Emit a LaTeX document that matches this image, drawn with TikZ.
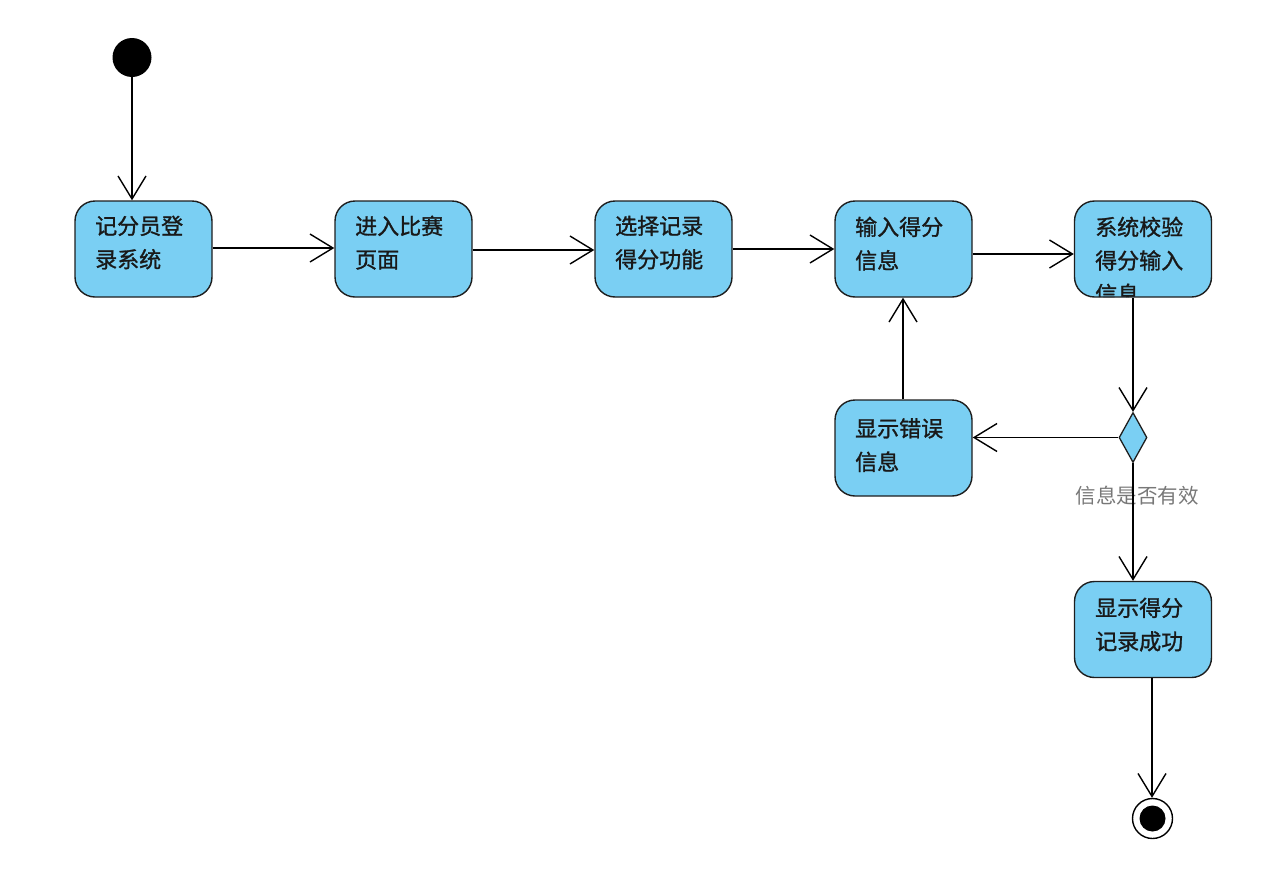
\documentclass[tikz,border=0pt]{standalone}
\usepackage{fontspec}
\newfontfamily\cjk[FakeBold=1.2]{Noto Sans CJK SC}
\newfontfamily\cjklbl{Noto Sans CJK SC}
\usetikzlibrary{arrows.meta,shapes.geometric,calc}
\definecolor{actfill}{RGB}{122,207,243}
\definecolor{actline}{RGB}{30,30,30}
\definecolor{lblgray}{RGB}{120,120,120}
\begin{document}
\begin{tikzpicture}[x=1pt,y=-1pt,
  actbox/.style={draw=actline,line width=1.4pt,fill=actfill,rounded corners=20pt,
    minimum width=137pt,minimum height=96pt,inner sep=0pt},
  acttext/.style={font=\cjk\fontsize{22}{33.5}\selectfont,align=left,anchor=north west,
    inner sep=0pt,text=black!90},
  arr/.style={line width=1.4pt,-{Straight Barb[length=23pt,width=28pt]}},
  decision/.style={diamond,draw=actline,line width=1.3pt,fill=actfill,inner sep=0pt,
    minimum width=28pt,minimum height=50pt,aspect=0.56},
  lbl/.style={font=\cjklbl\fontsize{20.5}{24}\selectfont,text=lblgray,inner sep=0pt}]
\useasboundingbox (0,0) rectangle (1261,889);
% start
\node[circle,fill=black,minimum size=39pt,inner sep=0pt] (s) at (132,57.5) {};
% boxes
\node[actbox] (b1) at (143.5,249) {};
\node[actbox] (b2) at (403.5,249) {};
\node[actbox] (b3) at (663.5,249) {};
\node[actbox] (b4) at (903.5,249) {};
\node[actbox] (b5) at (1143,249) {};
\node[actbox] (b6) at (903.5,448) {};
\node[actbox] (b7) at (1143,629.5) {};
\node[acttext] (t1) at (95,215.5) {记分员登\\录系统};
\node[acttext] (t2) at (355,215.5) {进入比赛\\页面};
\node[acttext] (t3) at (615,215.5) {选择记录\\得分功能};
\node[acttext] (t4) at (855,216.5) {输入得分\\信息};
\begin{scope}
  \clip[rounded corners=20pt] (1074.5,201) rectangle (1211.5,297);
  \node[acttext] (t5) at (1095,216.5) {系统校验\\得分输入\\信息};
\end{scope}
\node[acttext] (t6) at (855,418) {显示错误\\信息};
\node[acttext] (t7) at (1095,597.5) {显示得分\\记录成功};
% decision
\node[decision] (d) at (1133,437.5) {};
\node[lbl] (l) at (1137,496) {信息是否有效};
% final
\node[circle,draw=black,line width=1.4pt,fill=white,minimum size=40pt,inner sep=0pt] (f) at (1152.5,818.5) {};
\node[circle,fill=black,minimum size=26pt,inner sep=0pt] (fi) at (f.center) {};
% connectors
\draw[arr] (s.south) -- (s.south |- b1.north);
\draw[arr] ($(b1.east)+(0,-1)$) -- ($(b2.west)+(0,-1)$);
\draw[arr] ($(b2.east)+(0,1)$) -- ($(b3.west)+(0,1)$);
\draw[arr] (b3.east) -- (b4.west);
\draw[arr] ($(b4.east)+(0,5)$) -- ($(b5.west)+(0,5)$);
\draw[arr] (d.north |- b5.south) -- (d.north);
\draw[arr] (d.west) -- (d.west -| b6.east);
\draw[arr] ($(b6.north)+(-0.5,0)$) -- ($(b4.south)+(-0.5,0)$);
\draw[arr] (d.south) -- (d.south |- b7.north);
\draw[arr] ($(f.north |- b7.south)+(-0.5,0)$) -- ($(f.north)+(-0.5,0)$);
\end{tikzpicture}
\end{document}
